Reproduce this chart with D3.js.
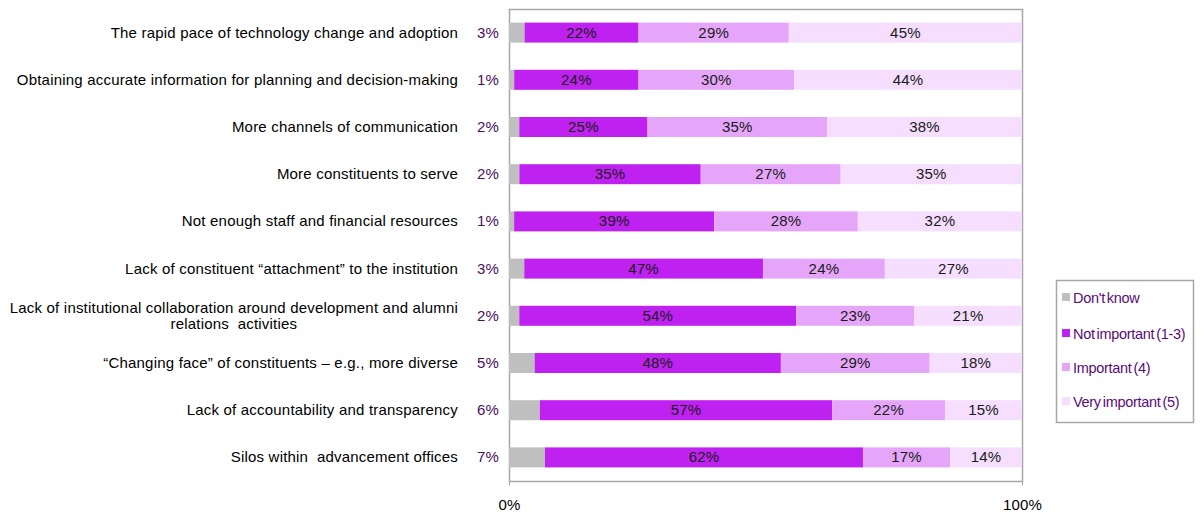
<!DOCTYPE html>
<html>
<head>
<meta charset="utf-8">
<script src="https://cdn.jsdelivr.net/npm/d3@7"></script>
<style>
  body { margin: 0; background: #fff; }
  svg { display: block; font-family: "Liberation Sans", Arial, sans-serif; }
  text { white-space: pre; }
</style>
</head>
<body>
<svg id="chart" width="1204" height="514"></svg>
<script>
// Survey items, top to bottom
const categories = [
  "The rapid pace of technology change and adoption",
  "Obtaining accurate information for planning and decision-making",
  "More channels of communication",
  "More constituents to serve",
  "Not enough staff and financial resources",
  "Lack of constituent \u201cattachment\u201d to the institution",
  "Lack of institutional collaboration around development and alumni|relations  activities",
  "\u201cChanging face\u201d of constituents \u2013 e.g., more diverse",
  "Lack of accountability and transparency",
  "Silos within  advancement offices"
];
const seriesNames = ["Don't know", "Not important (1-3)", "Important (4)", "Very important (5)"];
const dontKnow      = [3, 1, 2, 2, 1, 3, 2, 5, 6, 7];
const notImportant  = [22, 24, 25, 35, 39, 47, 54, 48, 57, 62];
const important     = [29, 30, 35, 27, 28, 24, 23, 29, 22, 17];
const veryImportant = [45, 44, 38, 35, 32, 27, 21, 18, 15, 14];
const axisTicks = [0, 1];
const colors = ["#BFBFBF", "#BF22F0", "#E5A6FA", "#F5DEFF"];

const svg = d3.select("#chart");
const plot = { left: 509, right: 1022, top: 9, bottom: 481 };
const FS = 15, LS = 0.2;

const x = d3.scaleLinear().domain([0, 1]).range([plot.left, plot.right]);
const y = d3.scaleBand().domain(categories).range([plot.top, plot.bottom]);
const barH = 20;

// Build 100%-stacked rows
const rows = categories.map((c, i) => ({
  cat: c, v: [dontKnow[i], notImportant[i], important[i], veryImportant[i]]
}));
rows.forEach(r => {
  const total = d3.sum(r.v);
  let acc = 0;
  r.segs = r.v.map((v, k) => {
    const s = { k, v, x0: acc / total, x1: (acc + v) / total };
    acc += v;
    return s;
  });
});

// Plot frame
svg.append("rect")
  .attr("x", plot.left + 0.5).attr("y", plot.top + 0.5)
  .attr("width", plot.right - plot.left).attr("height", plot.bottom - plot.top)
  .attr("fill", "none").attr("stroke", "#A6A6A6").attr("stroke-width", 1.5);

// Bars
const g = svg.append("g");
rows.forEach(r => {
  const yc = y(r.cat) + y.bandwidth() / 2;
  g.selectAll(null).data(r.segs).enter().append("rect")
    .attr("x", d => x(d.x0)).attr("width", d => x(d.x1) - x(d.x0))
    .attr("y", yc - barH / 2).attr("height", barH)
    .attr("fill", d => colors[d.k]);
  // Segment labels inside bars (skip "Don't know")
  g.selectAll(null).data(r.segs.filter(d => d.k > 0)).enter().append("text")
    .attr("x", d => (x(d.x0) + x(d.x1)) / 2).attr("y", yc + 5)
    .attr("text-anchor", "middle").attr("font-size", FS).attr("letter-spacing", LS)
    .attr("fill", "#1a1a1a")
    .text(d => d.v + "%");
  // "Don't know" label left of axis
  g.append("text")
    .attr("x", 499).attr("y", yc + 5)
    .attr("text-anchor", "end").attr("font-size", FS).attr("letter-spacing", LS)
    .attr("fill", "#4E0C63")
    .text(r.v[0] + "%");
  // Category label
  const lines = r.cat.split("|");
  if (lines.length === 1) {
    g.append("text").attr("x", 458).attr("y", yc + 5)
      .attr("text-anchor", "end").attr("font-size", FS).attr("letter-spacing", LS)
      .attr("fill", "#000")
      .text(lines[0]);
  } else {
    const t = g.append("text").attr("font-size", FS).attr("letter-spacing", LS)
      .attr("fill", "#000").attr("text-anchor", "middle");
    t.append("tspan").text(lines[0]);
    const w = t.node().getComputedTextLength();
    const cx = 458 - w / 2;
    t.selectAll("tspan").remove();
    lines.forEach((ln, j) => {
      t.append("tspan").attr("x", cx).attr("y", yc - 3 + j * 16).text(ln);
    });
  }
});

// X axis
const xAxis = d3.axisBottom(x).tickValues(axisTicks).tickFormat(d3.format(".0%")).tickSize(4);
const ax = svg.append("g").attr("transform", `translate(0,${plot.bottom + 0.5})`).call(xAxis);
ax.select(".domain").remove();
ax.selectAll("line").attr("stroke", "#A6A6A6");
ax.selectAll("text").attr("font-size", FS).attr("letter-spacing", LS).attr("fill", "#000")
  .attr("font-family", "'Liberation Sans', Arial, sans-serif").attr("dy", "1.45em");

// Legend
const lg = svg.append("g");
lg.append("rect").attr("x", 1056.5).attr("y", 280.5).attr("width", 137).attr("height", 142)
  .attr("fill", "#fff").attr("stroke", "#A6A6A6").attr("stroke-width", 1.5);
const legendY = [298, 334, 368, 402];
seriesNames.forEach((n, i) => {
  lg.append("rect").attr("x", 1062).attr("y", legendY[i] - 5).attr("width", 8).attr("height", 8)
    .attr("fill", colors[i]);
  lg.append("text").attr("x", 1073).attr("y", legendY[i] + 5)
    .attr("font-size", 14.5).attr("letter-spacing", -0.3).attr("word-spacing", -1.8)
    .attr("fill", "#5A0B78")
    .text(n);
});
</script>
</body>
</html>
